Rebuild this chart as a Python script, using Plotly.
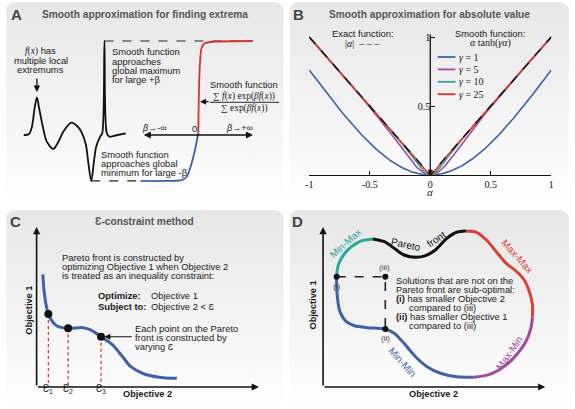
import numpy as np
import plotly.graph_objects as go

W, H = 575, 409
SANS = "Liberation Sans, Arial, sans-serif"
SERIF = "Liberation Serif, Times New Roman, serif"

# ---------------- Panel A data (schematic units) ----------------
fx_x = [2.0, 2.5, 2.8, 3.1, 3.33, 3.55, 3.93, 4.33, 5.0, 5.6, 6.0, 6.83, 7.4, 7.83,
        8.3, 8.5, 8.83, 9.1, 9.33, 9.73, 9.95, 10.17, 10.4, 10.67, 11.5, 12.33]
fx_y = [0.0, 0.007, 0.074, 0.287, 0.401, 0.287, 0.089, -0.071, -0.149, -0.053, 0.035,
        0.131, 0.096, 0.035, -0.106, -0.266, -0.489, -0.287, -0.124, -0.018, 0.021,
        1.0, 0.021, -0.018, 0.0, 0.018]
sig_lo_x = [13.83, 16.0, 18.0, 18.5, 19.0, 19.33, 19.67]
sig_lo_y = [-0.489, -0.489, -0.479, -0.444, -0.298, -0.160, 0.021]
sig_hi_x = [19.67, 20.0, 20.33, 21.33, 25.17]
sig_hi_y = [0.021, 0.926, 0.976, 0.993, 1.0]
beta_axis = [14.0, 25.2]

# ---------------- Panel B data ----------------
alpha = np.linspace(-1, 1, 401)
gammas = [1, 5, 10, 25]
gamma_colors = ["#3d62aa", "#a24b9e", "#2aa898", "#e0342a"]
xticks_b = [-1, -0.5, 0, 0.5, 1]
xtick_text_b = ["-1", "-0.5", "0", "0.5", "1"]
yticks_b = [0.5, 1]
ytick_text_b = ["0.5", "1"]

# ---------------- Panel C data ----------------
pc_obj2 = [0.028, 0.034, 0.046, 0.061, 0.090, 0.142, 0.209, 0.246, 0.290, 0.342,
           0.387, 0.424, 0.476, 0.550, 0.631]
pc_obj1 = [0.704, 0.596, 0.492, 0.429, 0.383, 0.367, 0.371, 0.356, 0.314, 0.263,
           0.189, 0.127, 0.086, 0.061, 0.054]
eps_obj2 = [0.053, 0.142, 0.290]
eps_obj1 = [0.456, 0.367, 0.314]
eps_labels = ["Ɛ<sub>1</sub>", "Ɛ<sub>2</sub>", "Ɛ<sub>3</sub>"]

# ---------------- Panel D data ----------------
minmax_x = [0.061, 0.065, 0.076, 0.098, 0.128, 0.172, 0.224]
minmax_y = [0.689, 0.742, 0.788, 0.836, 0.877, 0.913, 0.925]
front_x = [0.224, 0.276, 0.320, 0.364, 0.416, 0.461, 0.505, 0.557, 0.601, 0.643]
front_y = [0.925, 0.908, 0.867, 0.825, 0.811, 0.821, 0.856, 0.929, 0.967, 0.975]
maxmax_x = [0.643, 0.690, 0.735, 0.779, 0.824, 0.868, 0.905, 0.928, 0.942, 0.942]
maxmax_y = [0.975, 0.967, 0.919, 0.846, 0.773, 0.725, 0.669, 0.596, 0.513, 0.439]
maxmin_x = [0.942, 0.935, 0.912, 0.876, 0.824, 0.750, 0.676]
maxmin_y = [0.439, 0.367, 0.283, 0.211, 0.138, 0.079, 0.061]
minmin_x = [0.676, 0.601, 0.528, 0.468, 0.416, 0.364, 0.320, 0.276, 0.201, 0.142,
            0.105, 0.076, 0.065, 0.061, 0.061]
minmin_y = [0.061, 0.064, 0.086, 0.127, 0.189, 0.273, 0.336, 0.363, 0.371, 0.383,
            0.408, 0.471, 0.554, 0.638, 0.689]
seg_colors = {"minmax": "#2aa898", "front": "#111111", "maxmax": "#d8412e",
              "maxmin": "#a24b9e", "minmin": "#3d62aa"}
sol_obj2 = [0.061, 0.280, 0.280]   # (i), (iii), (ii)
sol_obj1 = [0.689, 0.689, 0.363]

fig = go.Figure()


def dx(a, b):
    return [a / W, b / W]


def dy(top, bottom):
    return [1 - bottom / H, 1 - top / H]


def P(x):
    return x / W


def Q(y):
    return 1 - y / H


# ---------------- backgrounds ----------------
def rrect(x0, y0, x1, y1, r=9):
    xs, ys = [], []
    for cx, cy, a0 in [(x1 - r, y0 + r, -90), (x1 - r, y1 - r, 0),
                       (x0 + r, y1 - r, 90), (x0 + r, y0 + r, 180)]:
        t = np.radians(np.linspace(a0, a0 + 90, 10))
        xs += list(cx + r * np.cos(t))
        ys += list(cy + r * np.sin(t))
    xs.append(xs[0]); ys.append(ys[0])
    return xs, ys


for box in [(2, 2, 283, 202), (289, 2, 572, 202), (2, 210, 283, 406), (289, 210, 572, 406)]:
    xs, ys = rrect(*box)
    fig.add_trace(go.Scatter(x=xs, y=ys, xaxis="x", yaxis="y", mode="lines",
                             fill="toself", line=dict(width=0),
                             fillgradient=dict(type="vertical",
                                               colorscale=[[0, "#ffffff"], [0.45, "#f3f3f3"], [1, "#e7e7e7"]]),
                             hoverinfo="skip"))

# ---------------- Panel A ----------------
imax = int(np.argmax(fx_y)); imin = int(np.argmin(fx_y))
fig.add_trace(go.Scatter(x=[fx_x[imax], sig_hi_x[-1]], y=[fx_y[imax]] * 2, xaxis="x2", yaxis="y2",
                         mode="lines", line=dict(color="#222", width=1.2, dash="dash")))
fig.add_trace(go.Scatter(x=[fx_x[imin], sig_lo_x[0]], y=[fx_y[imin]] * 2, xaxis="x2", yaxis="y2",
                         mode="lines", line=dict(color="#222", width=1.2, dash="dash")))
fig.add_trace(go.Scatter(x=fx_x, y=fx_y, xaxis="x2", yaxis="y2", mode="lines",
                         line=dict(color="#111", width=1.8, shape="spline", smoothing=0.8)))
fig.add_trace(go.Scatter(x=sig_lo_x, y=sig_lo_y, xaxis="x2", yaxis="y2", mode="lines",
                         line=dict(color="#3d62aa", width=1.8, shape="spline", smoothing=0.7)))
fig.add_trace(go.Scatter(x=sig_hi_x, y=sig_hi_y, xaxis="x2", yaxis="y2", mode="lines",
                         line=dict(color="#d8332b", width=1.8, shape="spline", smoothing=0.7)))

# ---------------- Panel B ----------------
for g, c in zip(gammas, gamma_colors):
    fig.add_trace(go.Scatter(x=alpha, y=alpha * np.tanh(g * alpha), xaxis="x3", yaxis="y3",
                             mode="lines", line=dict(color=c, width=1.6)))
fig.add_trace(go.Scatter(x=alpha, y=np.abs(alpha), xaxis="x3", yaxis="y3", mode="lines",
                         line=dict(color="#111", width=1.4, dash="dash")))

# ---------------- Panel C ----------------
vx, vy = [], []
for a, b in zip(eps_obj2, eps_obj1):
    vx += [a, a, None]; vy += [b, 0, None]
fig.add_trace(go.Scatter(x=vx, y=vy, xaxis="x4", yaxis="y4", mode="lines",
                         line=dict(color="#e8312a", width=1.3, dash="dot")))
fig.add_trace(go.Scatter(x=pc_obj2, y=pc_obj1, xaxis="x4", yaxis="y4", mode="lines",
                         line=dict(color="#3d62aa", width=3, shape="spline", smoothing=0.8)))
fig.add_trace(go.Scatter(x=eps_obj2, y=eps_obj1, xaxis="x4", yaxis="y4", mode="markers",
                         marker=dict(color="#111", size=8)))

# ---------------- Panel D ----------------
for key, xs, ys in [("minmax", minmax_x, minmax_y), ("front", front_x, front_y),
                    ("maxmax", maxmax_x, maxmax_y), ("maxmin", maxmin_x, maxmin_y),
                    ("minmin", minmin_x, minmin_y)]:
    fig.add_trace(go.Scatter(x=xs, y=ys, xaxis="x5", yaxis="y5", mode="lines",
                             line=dict(color=seg_colors[key], width=3, shape="spline", smoothing=0.8)))
fig.add_trace(go.Scatter(x=sol_obj2, y=sol_obj1, xaxis="x5", yaxis="y5", mode="lines",
                         line=dict(color="#222", width=1.6, dash="dash")))
fig.add_trace(go.Scatter(x=sol_obj2, y=sol_obj1, xaxis="x5", yaxis="y5", mode="markers",
                         marker=dict(color="#111", size=6)))

# ---------------- annotations ----------------
ann = []


def T(x, y, s, size=9.4, color="#1a1a1a", xa="center", font=SANS, angle=0):
    ann.append(dict(x=P(x), y=Q(y), xref="paper", yref="paper", text=s, showarrow=False,
                    xanchor=xa, yanchor="middle", textangle=angle,
                    font=dict(family=font, size=size, color=color)))


def A(hx, hy, tx, ty, w=1.3, side="end", head=2, size=1.0):
    ann.append(dict(x=P(hx), y=Q(hy), xref="paper", yref="paper", ax=tx - hx, ay=ty - hy,
                    showarrow=True, arrowhead=head, arrowsize=size, arrowwidth=w,
                    arrowcolor="#111", arrowside=side, text=""))


# panel letters & titles
for L, x, y in [("A", 13, 14), ("B", 298, 14), ("C", 12, 221), ("D", 297, 221)]:
    T(x, y, "<b>" + L + "</b>", size=15, color="#444")
T(143, 14, "<b>Smooth approximation for finding extrema</b>", size=10.2, color="#555")
T(431, 14, "<b>Smooth approximation for absolute value</b>", size=10.2, color="#555")
T(142, 221, "<b>Ɛ-constraint method</b>", size=10.2, color="#555")

# Panel A text
T(37, 51, '<span style="font-family:Liberation Serif"><i>f</i>(<i>x</i>)</span> has')
T(37, 60.3, "multiple local")
T(37, 69.3, "extremums")
A(33.3, 92, 33.3, 77, w=1.3)
for i, s in enumerate(["Smooth function", "approaches", "global maximum", "for large +β"]):
    T(107.5, 51.7 + 9.4 * i, s, xa="left")
for i, s in enumerate(["Smooth function", "approaches global", "minimum for large -β"]):
    T(96, 154 + 9.4 * i, s, xa="left")
T(243.3, 84.3, "Smooth function")
T(243.3, 96.5, "∑ <i>f</i>(<i>x</i>) exp(<i>βf</i>(<i>x</i>))", size=9.4, font=SERIF)
T(243.3, 108.5, "∑ exp(<i>βf</i>(<i>x</i>))", size=9.4, font=SERIF)
A(198.5, 101.7, 208.5, 101.7, w=1.2)
ann.append(dict(x=beta_axis[1], y=0, xref="x2", yref="y2", ax=beta_axis[0], ay=0,
                axref="x2", ayref="y2", showarrow=True, arrowhead=2, arrowsize=1,
                arrowwidth=1.4, arrowcolor="#111", arrowside="end+start", text=""))
T(152, 128, "<i>β</i>→-∞", size=9)
T(193, 128, "0", size=9.4)
T(238, 128, "<i>β</i>→+∞", size=9)

# Panel B text
T(363, 33.3, "Exact function:")
T(363, 43.3, "|<i>α</i>|  – – –", font=SERIF, size=10)
T(492, 33.3, "Smooth function:")
T(492, 43.3, "<i>α</i> tanh(<i>γα</i>)", font=SERIF, size=10)
for i, (g, c) in enumerate(zip(gammas, gamma_colors)):
    T(458.5, 57 + 12.4 * i, "<i>γ</i> = %d" % g, font=SERIF, size=10, xa="left")
T(431.5, 192, "<i>α</i>", font=SERIF, size=11)
ann.append(dict(x=0, y=0, xref="x3", yref="y3", ax=0, ay=1.03, axref="x3", ayref="y3",
                showarrow=True, arrowhead=2, arrowsize=0.8, arrowwidth=1.3,
                arrowcolor="#111", text=""))

# Panel C text
for i, s in enumerate(["Pareto front is constructed by", "optimizing Objective 1 when Objective 2",
                       "is treated as an inequality constraint:"]):
    T(56.5, 257.7 + 9.1 * i, s, xa="left")
T(93.5, 295, "<b>Optimize:</b>", xa="left")
T(147, 295, "Objective 1", xa="left")
T(93.5, 306, "<b>Subject to:</b>", xa="left")
T(147, 306, "Objective 2 < Ɛ", xa="left")
for i, s in enumerate(["Each point on the Pareto", "front is constructed by", "varying Ɛ"]):
    T(131, 328.3 + 9.1 * i, s, xa="left")
ann.append(dict(x=0.305, y=eps_obj1[2], xref="x4", yref="y4", ax=0.435, ay=eps_obj1[2],
                axref="x4", ayref="y4", showarrow=True, arrowhead=2, arrowsize=1,
                arrowwidth=1.2, arrowcolor="#111", text=""))
for a, s in zip(eps_obj2, eps_labels):
    ann.append(dict(x=a, y=Q(397), xref="x4", yref="paper", text=s, showarrow=False,
                    font=dict(family=SANS, size=10, color="#1a1a1a")))
T(145, 394, "<b>Objective 2</b>", size=9.2)
T(25, 310, "<b>Objective 1</b>", size=9.2, angle=-90)
for xr, yr in [("x4", "y4"), ("x5", "y5")]:
    ann.append(dict(x=0, y=1.0, xref=xr, yref=yr, ax=0, ay=0, axref=xr, ayref=yr,
                    showarrow=True, arrowhead=2, arrowsize=0.9, arrowwidth=1.6,
                    arrowcolor="#111", text=""))
    ann.append(dict(x=1.0, y=0, xref=xr, yref=yr, ax=0, ay=0, axref=xr, ayref=yr,
                    showarrow=True, arrowhead=2, arrowsize=0.9, arrowwidth=1.6,
                    arrowcolor="#111", text=""))

# Panel D text
T(435, 394, "<b>Objective 2</b>", size=9.2)
T(313.3, 305, "<b>Objective 1</b>", size=9.2, angle=-90)
T(345, 243, "Min-Max", size=10, color=seg_colors["minmax"], angle=-42)
T(407, 244, "Pareto", size=10, color="#111", angle=12)
T(437, 239, "front", size=10, color="#111", angle=-35)
T(520, 256, "Max-Max", size=10, color=seg_colors["maxmax"], angle=48)
T(511, 353, "Max-Min", size=10, color=seg_colors["maxmin"], angle=-55)
T(404, 362, "Min-Min", size=10, color=seg_colors["minmin"], angle=48)
T(336.7, 286, "(i)", size=8, color="#444")
T(385, 267.5, "(iii)", size=8, color="#444")
T(386.7, 338.5, "(ii)", size=8, color="#444")
lines_d = [(394.5, "Solutions that are not on the"), (394.5, "Pareto front are sub-optimal:"),
           (394.5, "<b>(i)</b> has smaller Objective 2"), (407.5, "compared to (iii)"),
           (394.5, "<b>(ii)</b> has smaller Objective 1"), (407.5, "compared to (iii)")]
for i, (x, s) in enumerate(lines_d):
    T(x, 280 + 9.15 * i, s, xa="left")

# shapes: fraction bar and legend keys
shapes = [dict(type="line", xref="paper", yref="paper", x0=P(208.5), x1=P(278.5),
               y0=Q(102.3), y1=Q(102.3), line=dict(color="#111", width=0.9))]
for i, c in enumerate(gamma_colors):
    shapes.append(dict(type="line", xref="paper", yref="paper", x0=P(439), x1=P(457),
                       y0=Q(57 + 12.4 * i), y1=Q(57 + 12.4 * i), line=dict(color=c, width=1.8)))

hid = dict(visible=False, showgrid=False, zeroline=False, fixedrange=True)
fig.update_layout(
    width=W, height=H, margin=dict(l=0, r=0, t=0, b=0), showlegend=False,
    paper_bgcolor="white", plot_bgcolor="rgba(0,0,0,0)",
    xaxis=dict(domain=[0, 1], range=[0, W], **hid),
    yaxis=dict(domain=[0, 1], range=[H, 0], **hid),
    xaxis2=dict(domain=dx(0, 290), range=[0, 29], anchor="y2", **hid),
    yaxis2=dict(domain=dy(0, 205), range=[(135 - 205) / 94, 135 / 94], anchor="x2", **hid),
    xaxis3=dict(domain=dx(309, 554), range=[-1, 1], anchor="y3", showgrid=False, zeroline=False,
                showline=True, linecolor="#111", linewidth=1.3, ticks="inside", ticklen=4,
                tickcolor="#111", tickvals=xticks_b, ticktext=xtick_text_b,
                tickfont=dict(family=SERIF, size=10, color="#111")),
    yaxis3=dict(domain=dy(175 - 1.04 * 138, 175), range=[0, 1.04], anchor="free",
                position=431.5 / W, showgrid=False, zeroline=False, showline=False,
                ticks="inside", ticklen=4, tickcolor="#111", tickvals=yticks_b,
                ticktext=ytick_text_b, tickfont=dict(family=SERIF, size=10, color="#111")),
    xaxis4=dict(domain=dx(0, 290), range=[-33 / 225, (290 - 33) / 225], anchor="y4", **hid),
    yaxis4=dict(domain=dy(205, 409), range=[(387 - 409) / 160, (387 - 205) / 160], anchor="x4", **hid),
    xaxis5=dict(domain=dx(285, 575), range=[(285 - 323) / 225, (575 - 323) / 225], anchor="y5", **hid),
    yaxis5=dict(domain=dy(205, 409), range=[(387 - 409) / 160, (387 - 205) / 160], anchor="x5", **hid),
    annotations=ann, shapes=shapes,
)
fig.write_html("out.html", config={"displayModeBar": False},
               post_script="document.body.style.margin='0';document.body.style.padding='0';"
                           "document.body.style.overflow='hidden';")
